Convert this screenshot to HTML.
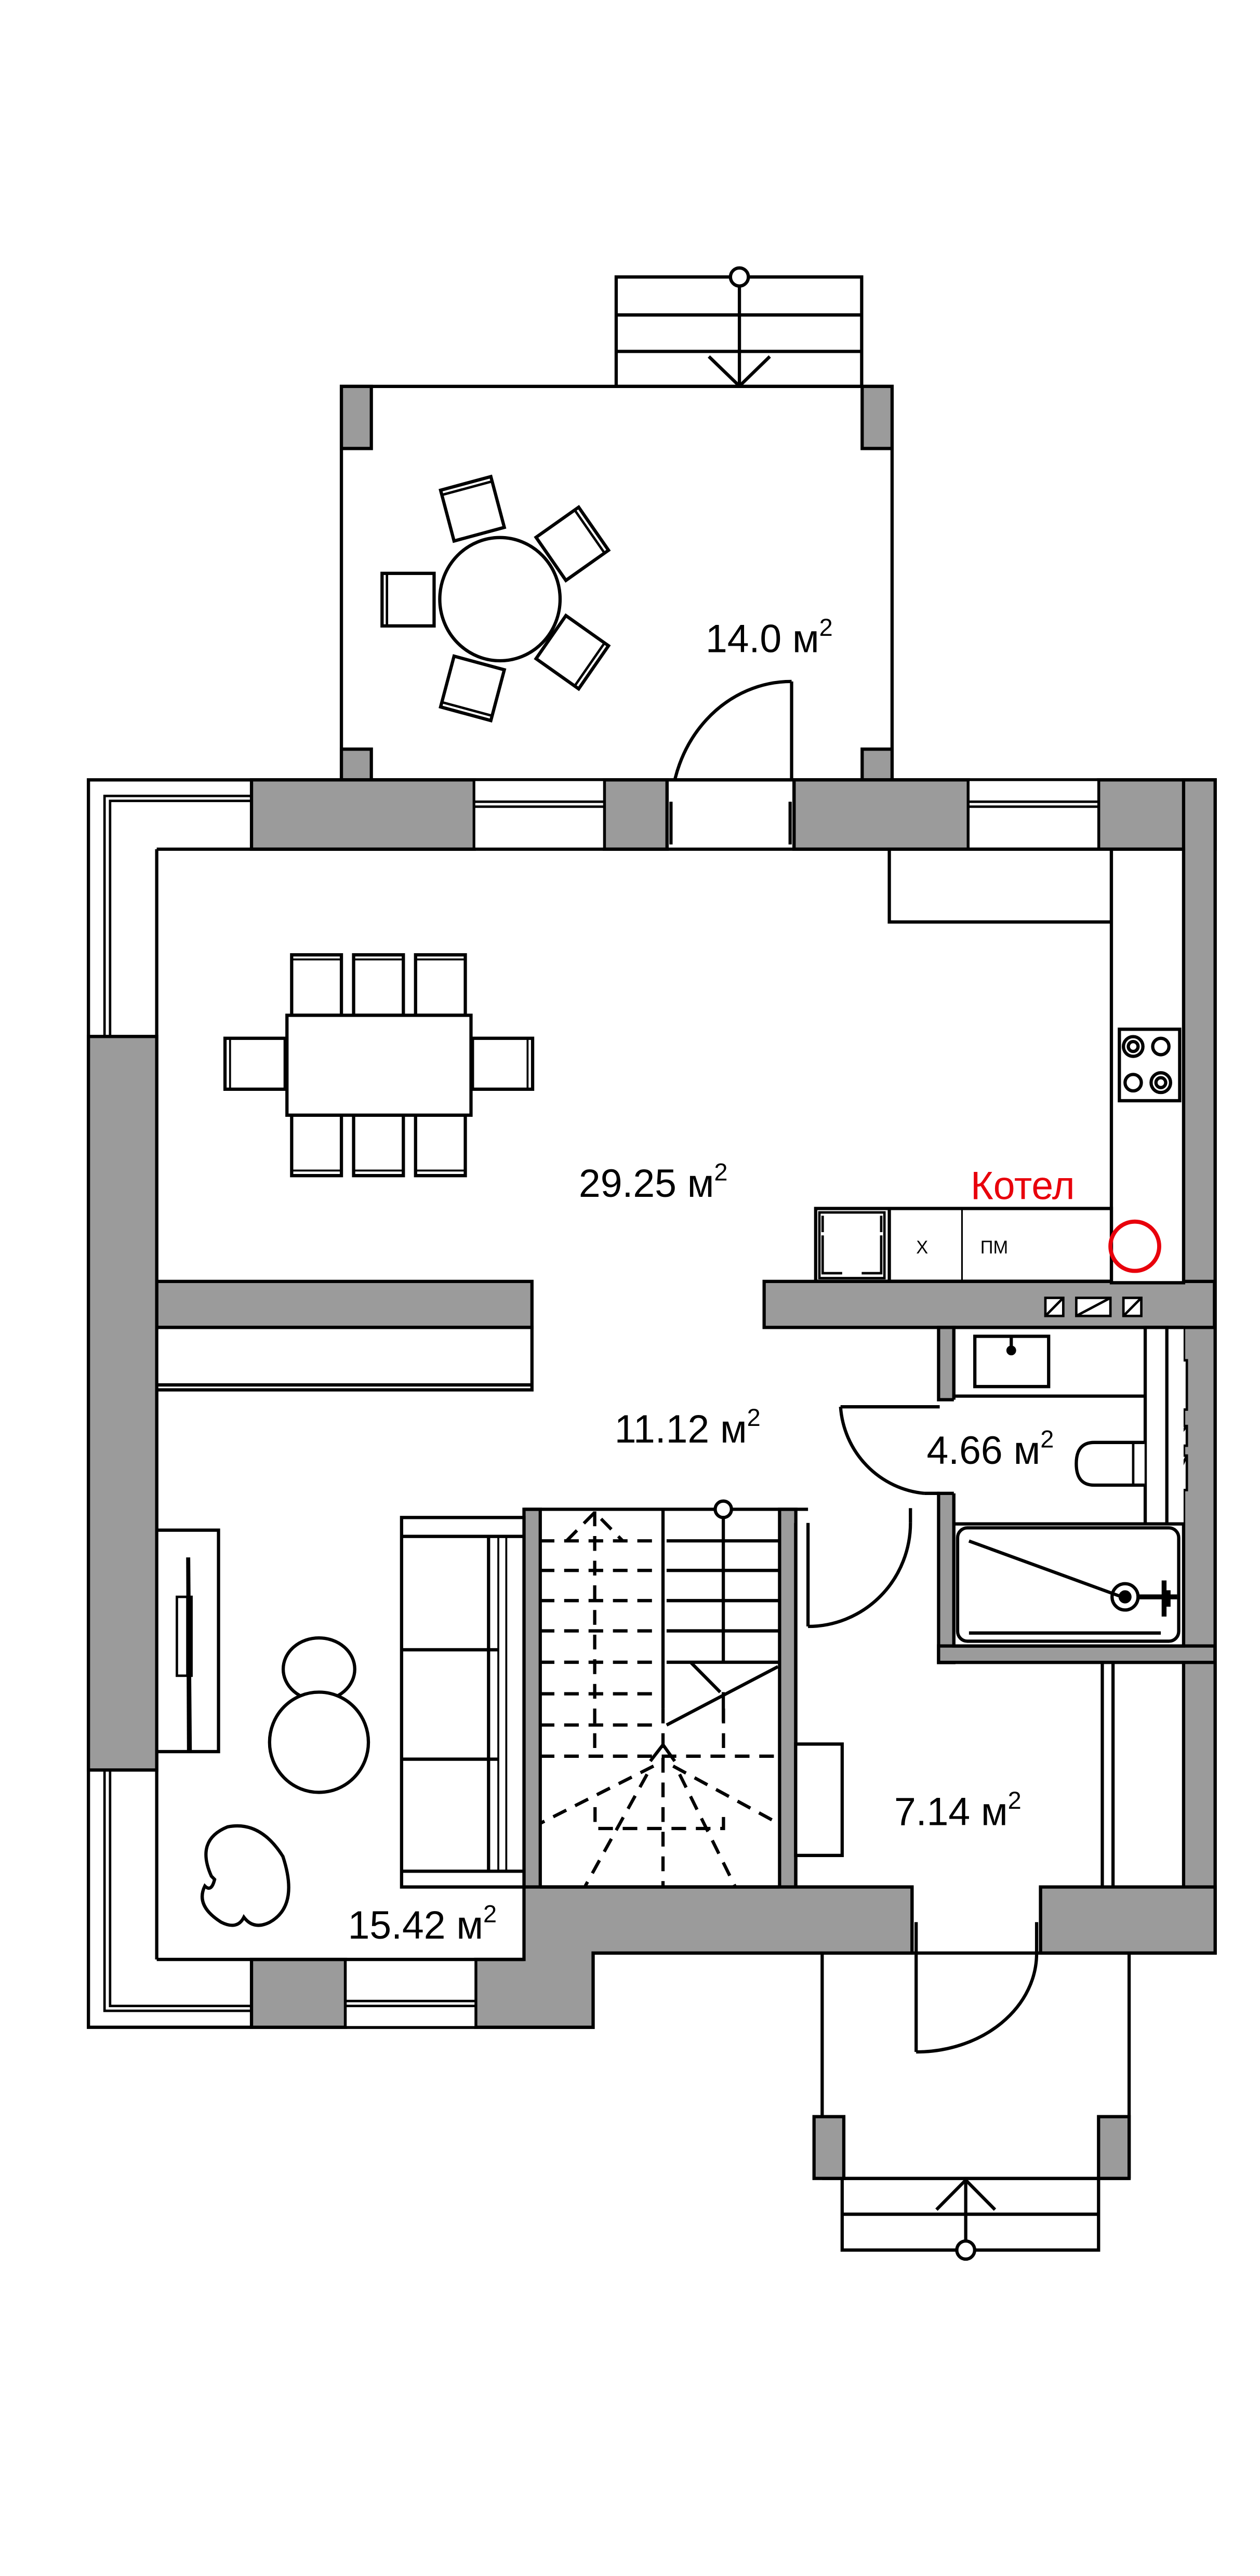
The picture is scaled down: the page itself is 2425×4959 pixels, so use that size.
<!DOCTYPE html>
<html><head><meta charset="utf-8"><style>
html,body{margin:0;padding:0;background:#fff}
svg{display:block}
text{font-family:"Liberation Sans",sans-serif}
</style></head><body>
<svg width="2425" height="4959" viewBox="0 0 775 1568" preserveAspectRatio="none" xmlns="http://www.w3.org/2000/svg">
<defs>
<g id="chair"><rect x="-16" y="-16" width="32" height="32" fill="#fff" stroke="#000" stroke-width="2"/><line x1="-16" y1="-13" x2="16" y2="-13" stroke="#000" stroke-width="1.5"/></g>
</defs>
<g stroke="#000" stroke-width="2" fill="none">
<rect x="379" y="168.6" width="151" height="66.6" fill="#fff"/>
<line x1="379" y1="191.7" x2="530" y2="191.7"/><line x1="379" y1="213.9" x2="530" y2="213.9"/>
<line x1="454.8" y1="168.6" x2="454.8" y2="235"/>
<circle cx="454.8" cy="168.6" r="5.5" fill="#fff"/>
<polyline points="436,217 454.8,235 473.5,217"/>
<rect x="210" y="235.2" width="338.7" height="239.5" fill="#fff"/>
</g>
<g fill="#9b9b9b" stroke="#000" stroke-width="2">
<rect x="210" y="235.2" width="18.4" height="37.8"/>
<rect x="530.3" y="235.2" width="18.4" height="37.8"/>
<rect x="210" y="456" width="18.4" height="20"/>
<rect x="530.3" y="456" width="18.4" height="20"/>
</g>
<ellipse cx="307.5" cy="364.7" rx="37" ry="37.5" fill="#fff" stroke="#000" stroke-width="2"/>
<use href="#chair" transform="translate(251,365) rotate(-90)"/>
<use href="#chair" transform="translate(290.6,309.7) rotate(-15)"/>
<use href="#chair" transform="translate(352,331) rotate(55)"/>
<use href="#chair" transform="translate(352,397) rotate(125)"/>
<use href="#chair" transform="translate(290.6,419) rotate(195)"/>
<text x="434" y="397" font-size="24">14.0 м<tspan font-size="15" dy="-10">2</tspan></text>
<g stroke="#000" stroke-width="2" fill="none">
<line x1="486.9" y1="414.8" x2="486.9" y2="494.7"/>
<path d="M486.9,414.8 A74,80 0 0 0 412.7,494.7"/>
</g>
<polygon points="54.4,474.7 747.4,474.7 747.4,1188.8 364.8,1188.8 364.8,1234 54.4,1234" fill="#fff" stroke="#000" stroke-width="2"/>
<g fill="#9b9b9b" stroke="#000" stroke-width="2">
<rect x="154.7" y="474.7" width="137" height="42.2"/>
<rect x="371.7" y="474.7" width="38.6" height="42.2"/>
<rect x="488.4" y="474.7" width="107.2" height="42.2"/>
<rect x="675.7" y="474.7" width="71.7" height="42.2"/>
<rect x="728" y="474.7" width="19.4" height="714"/>
<rect x="54.4" y="630.9" width="42" height="446.5"/>
<rect x="96.4" y="780" width="230.8" height="28"/>
<rect x="470" y="780" width="277" height="28"/>
<rect x="577.3" y="808" width="9.4" height="44"/>
<rect x="577.3" y="909" width="9.4" height="103"/>
<rect x="577.3" y="1001.9" width="170" height="10"/>
<rect x="322.3" y="918.7" width="10" height="230"/>
<rect x="479.5" y="918.7" width="10" height="230"/>
<polygon points="322.3,1148.6 561,1148.6 561,1188.8 364.8,1188.8 364.8,1234 292.6,1234 292.6,1192.7 322.3,1192.7"/>
<rect x="640" y="1148.6" width="107.4" height="40.2"/>
<rect x="154.7" y="1192.7" width="57.8" height="41.3"/>
</g>
<g stroke="#000" stroke-width="1.5" fill="none">
<rect x="291.6" y="474.7" width="80.1" height="42.2" fill="#fff"/>
<line x1="291.6" y1="488" x2="371.7" y2="488"/><line x1="291.6" y1="491" x2="371.7" y2="491"/>
<rect x="595.6" y="474.7" width="80.1" height="42.2" fill="#fff"/>
<line x1="595.6" y1="488" x2="675.7" y2="488"/><line x1="595.6" y1="491" x2="675.7" y2="491"/>
<polyline points="64.3,630.9 64.3,484.5 154.7,484.5"/><polyline points="67.7,630.9 67.7,487.5 154.7,487.5"/>
<polyline points="64.3,1077.4 64.3,1224 154.7,1224"/><polyline points="67.7,1077.4 67.7,1221 154.7,1221"/>
<rect x="212.5" y="1192.7" width="80.1" height="41.3" fill="#fff"/>
<line x1="212.5" y1="1218" x2="292.6" y2="1218"/><line x1="212.5" y1="1221" x2="292.6" y2="1221"/>
</g>
<g stroke="#000" stroke-width="2" fill="none">
<line x1="96.4" y1="516.9" x2="728" y2="516.9"/>
<line x1="96.4" y1="516.9" x2="96.4" y2="1192.7"/>
<line x1="96.4" y1="1192.7" x2="322.3" y2="1192.7"/>
<line x1="410.3" y1="474.7" x2="410.3" y2="516.9"/><line x1="488.4" y1="474.7" x2="488.4" y2="516.9"/>
<line x1="412.7" y1="488" x2="412.7" y2="514"/><line x1="486" y1="488" x2="486" y2="514"/>
</g>
<g stroke="#000" stroke-width="2" fill="#fff">
<rect x="547" y="516.9" width="136.6" height="44.3"/>
<rect x="683.6" y="516.9" width="44.4" height="263.9"/>
<rect x="501.7" y="735.6" width="181.9" height="44.3"/>
<rect x="688.5" y="626.5" width="37.1" height="43.5"/>
<line x1="547" y1="735.6" x2="547" y2="779.9"/>
<line x1="591.7" y1="735.6" x2="591.7" y2="779.9" stroke-width="1"/>
<circle cx="697" cy="637" r="6"/><circle cx="697" cy="637" r="3"/><circle cx="714" cy="637" r="5"/>
<circle cx="697" cy="659" r="5"/><circle cx="714" cy="659" r="6"/><circle cx="714" cy="659" r="3"/>
</g>
<g stroke="#000" stroke-width="1.5" fill="none">
<rect x="504" y="738" width="40" height="40"/>
<polyline points="506,752 506,775 518,775" /><polyline points="530,775 542,775 542,752"/>
<polyline points="506,750 506,740"/><polyline points="542,750 542,740"/>
</g>
<text x="563.5" y="763" font-size="11">Х</text>
<text x="603" y="763" font-size="11">ПМ</text>
<text x="597" y="730" font-size="24" fill="#e8000b">Котел</text>
<circle cx="698" cy="758.6" r="15" fill="none" stroke="#e8000b" stroke-width="2.5"/>
<g stroke="#000" stroke-width="1.5" fill="#fff">
<rect x="643" y="790" width="11" height="11"/><line x1="643" y1="801" x2="654" y2="790"/>
<rect x="662" y="790" width="21" height="11"/><line x1="662" y1="801" x2="683" y2="790"/>
<rect x="691" y="790" width="11" height="11"/><line x1="691" y1="801" x2="702" y2="790"/>
<rect x="711" y="828" width="19" height="30"/>
<rect x="720" y="868" width="10" height="12"/><line x1="720" y1="880" x2="730" y2="868"/>
<rect x="720" y="886" width="10" height="21"/><line x1="720" y1="907" x2="730" y2="886"/>
</g>
<g stroke="#000" stroke-width="2" fill="#fff">
<rect x="179.4" y="581.2" width="30.6" height="36.8"/><rect x="217.5" y="581.2" width="30.6" height="36.8"/><rect x="255.6" y="581.2" width="30.6" height="36.8"/>
<rect x="179.4" y="678.8" width="30.6" height="36.8"/><rect x="217.5" y="678.8" width="30.6" height="36.8"/><rect x="255.6" y="678.8" width="30.6" height="36.8"/>
<rect x="138.4" y="632" width="37" height="31"/><rect x="290.6" y="632" width="37" height="31"/>
<rect x="176.5" y="618" width="113.2" height="60.8"/>
</g>
<g stroke="#000" stroke-width="1.2">
<line x1="179.4" y1="584" x2="210" y2="584"/><line x1="217.5" y1="584" x2="248" y2="584"/><line x1="255.6" y1="584" x2="286" y2="584"/>
<line x1="179.4" y1="712.5" x2="210" y2="712.5"/><line x1="217.5" y1="712.5" x2="248" y2="712.5"/><line x1="255.6" y1="712.5" x2="286" y2="712.5"/>
<line x1="141.5" y1="632" x2="141.5" y2="663"/><line x1="324.5" y1="632" x2="324.5" y2="663"/>
</g>
<text x="356" y="728.5" font-size="24">29.25 м<tspan font-size="15" dy="-10">2</tspan></text>
<g stroke="#000" stroke-width="2" fill="#fff">
<rect x="96.4" y="808" width="230.8" height="38"/>
<line x1="96.4" y1="843" x2="327.2" y2="843"/>
</g>
<text x="378" y="878" font-size="24">11.12 м<tspan font-size="15" dy="-10">2</tspan></text>
<g stroke="#000" stroke-width="2" fill="#fff">
<rect x="586.7" y="808" width="141.3" height="119.6" stroke="none"/>
<polyline points="586.7,852 586.7,808 728,808" fill="none"/>
<polyline points="586.7,909 586.7,927.6" fill="none"/>
<line x1="586.7" y1="849.8" x2="704.4" y2="849.8"/>
<rect x="704.4" y="808" width="13.3" height="119.6"/>
<rect x="599.6" y="813.4" width="45.4" height="30.6"/>
<circle cx="622" cy="822" r="2" fill="#000"/><line x1="622" y1="813" x2="622" y2="822"/>
<path d="M704,878 L673,878 Q662,878 662,891 Q662,904 673,904 L704,904" />
<line x1="697" y1="878" x2="697" y2="904" stroke-width="1.5"/>
<rect x="586.7" y="927.6" width="141.3" height="74.3"/>
<rect x="589" y="930" width="136" height="69" rx="6"/>
</g>
<g stroke="#000" stroke-width="2" fill="none">
<line x1="596" y1="938" x2="690" y2="972"/>
<line x1="596" y1="994" x2="714" y2="994"/>
<circle cx="692" cy="972" r="8"/><circle cx="692" cy="972" r="3" fill="#000"/>
<line x1="700" y1="972" x2="724" y2="972" stroke-width="3"/>
<line x1="716" y1="962" x2="716" y2="984" stroke-width="3"/>
<line x1="718" y1="968" x2="718" y2="978" stroke-width="4"/>
</g>
<text x="570" y="891" font-size="24">4.66 м<tspan font-size="15" dy="-10">2</tspan></text>
<g stroke="#000" stroke-width="2" fill="none">
<line x1="517" y1="856.3" x2="578" y2="856.3"/>
<path d="M517,856.3 A57,57 0 0 0 568.5,909"/>
<line x1="568.5" y1="909" x2="578" y2="909"/>
</g>
<g stroke="#000" stroke-width="2" fill="none">
<line x1="322.3" y1="918.7" x2="497" y2="918.7"/>
<line x1="332.2" y1="1148.6" x2="479.5" y2="1148.6"/>
<line x1="407.8" y1="918.7" x2="407.8" y2="1040"/>
<line x1="410" y1="937.9" x2="479" y2="937.9"/><line x1="410" y1="955.9" x2="479" y2="955.9"/>
<line x1="410" y1="974.3" x2="479" y2="974.3"/><line x1="410" y1="992.7" x2="479" y2="992.7"/>
<line x1="410" y1="1011.8" x2="479" y2="1011.8"/>
<line x1="444.9" y1="918.7" x2="444.9" y2="1011.8"/>
<line x1="410" y1="1050" x2="478.5" y2="1014.5"/>
<line x1="425" y1="1012" x2="443" y2="1030"/>
<line x1="444.9" y1="1030" x2="444.9" y2="1048"/>
<circle cx="444.9" cy="918.7" r="5" fill="#fff"/>
</g>
<g stroke="#000" stroke-width="2" fill="none" stroke-dasharray="9,6">
<line x1="332" y1="937.9" x2="402" y2="937.9"/><line x1="332" y1="955.9" x2="402" y2="955.9"/>
<line x1="332" y1="974.3" x2="402" y2="974.3"/><line x1="332" y1="992.7" x2="402" y2="992.7"/>
<line x1="332" y1="1011.8" x2="402" y2="1011.8"/><line x1="332" y1="1031" x2="402" y2="1031"/>
<line x1="332" y1="1050" x2="402" y2="1050"/><line x1="332" y1="1069" x2="479" y2="1069"/>
<line x1="365.8" y1="920" x2="365.8" y2="1069"/>
<line x1="445" y1="1040" x2="445" y2="1069"/>
<line x1="407.8" y1="1040" x2="407.8" y2="1148"/>
<polyline points="348.5,937.9 365.8,920.6 383,937.9"/>
<line x1="402" y1="1075" x2="332" y2="1110"/>
<line x1="398" y1="1080" x2="360" y2="1148"/>
<line x1="418" y1="1080" x2="452" y2="1148"/>
<line x1="414" y1="1075" x2="479" y2="1110"/>
<polyline points="366,1100 366,1113 445,1113 445,1100"/>
</g>
<polyline points="400,1072 407.8,1062 415,1072" stroke="#000" stroke-width="2" fill="none"/>
<g stroke="#000" stroke-width="2" fill="#fff">
<rect x="247" y="923.7" width="75.3" height="224.9"/>
<line x1="247" y1="935.2" x2="322" y2="935.2"/>
<line x1="247" y1="1004.2" x2="306" y2="1004.2"/>
<line x1="247" y1="1070.8" x2="306" y2="1070.8"/>
<line x1="247" y1="1139" x2="322" y2="1139"/>
<line x1="300.5" y1="935.2" x2="300.5" y2="1139"/>
<line x1="306.5" y1="935.2" x2="306.5" y2="1139" stroke-width="1.2"/>
<line x1="311.4" y1="935.2" x2="311.4" y2="1139" stroke-width="1.2"/>
</g>
<g stroke="#000" stroke-width="2" fill="#fff">
<rect x="96.4" y="931.4" width="38" height="134.8"/>
<ellipse cx="196.2" cy="1016" rx="22" ry="19"/>
<ellipse cx="196.2" cy="1060.5" rx="30.4" ry="30.5"/>
<path d="M130,1142 Q120,1120 140,1112 Q160,1108 174,1130 Q184,1160 166,1170 Q156,1175 150,1167 Q146,1175 136,1170 Q120,1160 126,1148 Q130,1152 132,1144 Z"/>
</g>
<polygon points="114.5,948 117,948 118,1066 115,1066" fill="#000"/>
<rect x="108.8" y="972" width="9" height="48" fill="#fff" stroke="#000" stroke-width="1.5"/>
<line x1="116" y1="972" x2="116" y2="1020" stroke="#000" stroke-width="3"/>
<text x="214" y="1180" font-size="24">15.42 м<tspan font-size="15" dy="-10">2</tspan></text>
<g stroke="#000" stroke-width="2" fill="#fff">
<rect x="489.4" y="1061.6" width="28.6" height="67.8"/>
</g>
<g stroke="#000" stroke-width="2" fill="none">
<line x1="489.4" y1="927" x2="489.4" y2="1148.6"/>
<line x1="678" y1="1011.8" x2="678" y2="1148.6"/>
<line x1="684.6" y1="1011.8" x2="684.6" y2="1148.6"/>
<line x1="497" y1="927" x2="497" y2="990"/>
<path d="M497,990 A63,63 0 0 0 560,927"/>
<line x1="560" y1="918" x2="560" y2="927"/>
<line x1="561" y1="1148.6" x2="561" y2="1188.8"/>
<line x1="640" y1="1148.6" x2="640" y2="1188.8"/>
<line x1="563.5" y1="1170" x2="563.5" y2="1249"/>
<line x1="637.6" y1="1170" x2="637.6" y2="1188.8"/>
<path d="M563.5,1249 A74,60 0 0 0 637.6,1188.8"/>
</g>
<text x="550" y="1111" font-size="24">7.14 м<tspan font-size="15" dy="-10">2</tspan></text>
<g stroke="#000" stroke-width="2" fill="none">
<line x1="505.7" y1="1188.8" x2="505.7" y2="1326"/>
<line x1="694.5" y1="1188.8" x2="694.5" y2="1326"/>
<line x1="505.7" y1="1326" x2="694.5" y2="1326"/>
<rect x="518" y="1326" width="157.7" height="43.6"/>
<line x1="518" y1="1347.8" x2="675.7" y2="1347.8"/>
<line x1="594" y1="1326" x2="594" y2="1369.6"/>
<polyline points="576,1345 594,1327 612,1345"/>
<circle cx="594" cy="1369.6" r="5.5" fill="#fff"/>
</g>
<g fill="#9b9b9b" stroke="#000" stroke-width="2">
<rect x="500.7" y="1288.4" width="18.3" height="37.6"/>
<rect x="675.7" y="1288.4" width="18.8" height="37.6"/>
</g>
</svg>
</body></html>
